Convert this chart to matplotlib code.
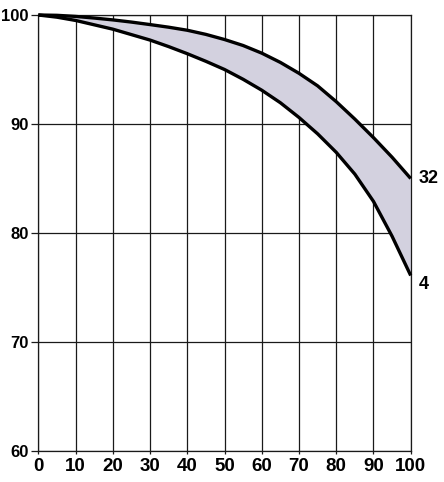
import matplotlib
matplotlib.use("Agg")
import matplotlib.pyplot as plt

x = [0, 5, 10, 15, 20, 25, 30, 35, 40, 45, 50, 55, 60, 65, 70, 75, 80, 85, 90, 95, 100]
upper_32 = [100, 99.97, 99.87, 99.72, 99.55, 99.35, 99.12, 98.88, 98.6, 98.22, 97.75,
            97.2, 96.5, 95.65, 94.65, 93.5, 92.05, 90.45, 88.75, 86.95, 85.0]
lower_4 = [100, 99.8, 99.5, 99.1, 98.7, 98.2, 97.7, 97.1, 96.45, 95.75, 95.0,
           94.1, 93.1, 91.95, 90.6, 89.1, 87.4, 85.4, 82.9, 79.7, 76.1]
xticks = list(range(0, 101, 10))
yticks = [60, 70, 80, 90, 100]
labels = ["32", "4"]

plt.rcParams['font.family'] = ['Liberation Sans', 'DejaVu Sans']

fig = plt.figure(figsize=(4.44, 4.82), dpi=100)
ax = fig.add_axes([0.0863, 0.0643, 0.925 - 0.0863, 0.9689 - 0.0643])
ax.set_xlim(0, 100)
ax.set_ylim(60, 100)
ax.set_xticks(xticks)
ax.set_yticks(yticks)
ax.grid(True, color='#1a1a1a', linewidth=0.9)
ax.set_axisbelow(True)
for s in ax.spines.values():
    s.set_color('#1a1a1a')
    s.set_linewidth(0.9)

ax.fill_between(x, lower_4, upper_32, color='#d3d1df', zorder=2)
ax.plot(x, upper_32, color='black', lw=2.4, zorder=3, solid_capstyle='butt',
        solid_joinstyle='round', clip_on=False)
ax.plot(x, lower_4, color='black', lw=2.4, zorder=3, solid_capstyle='butt',
        solid_joinstyle='round', clip_on=False)

ax.text(102.2, upper_32[-1], labels[0], fontsize=13, fontweight='bold', va='center', ha='left')
ax.text(102.2, lower_4[-1] - 0.8, labels[1], fontsize=13, fontweight='bold', va='center', ha='left')

ax.tick_params(axis='y', direction='out', length=5, width=0.9, pad=2, labelsize=12, color='#1a1a1a')
ax.tick_params(axis='x', direction='out', length=2, width=0.9, pad=3, labelsize=13.5, color='#1a1a1a')
for t in ax.get_xticklabels() + ax.get_yticklabels():
    t.set_fontweight('bold')

fig.savefig("out.png", dpi=100)
